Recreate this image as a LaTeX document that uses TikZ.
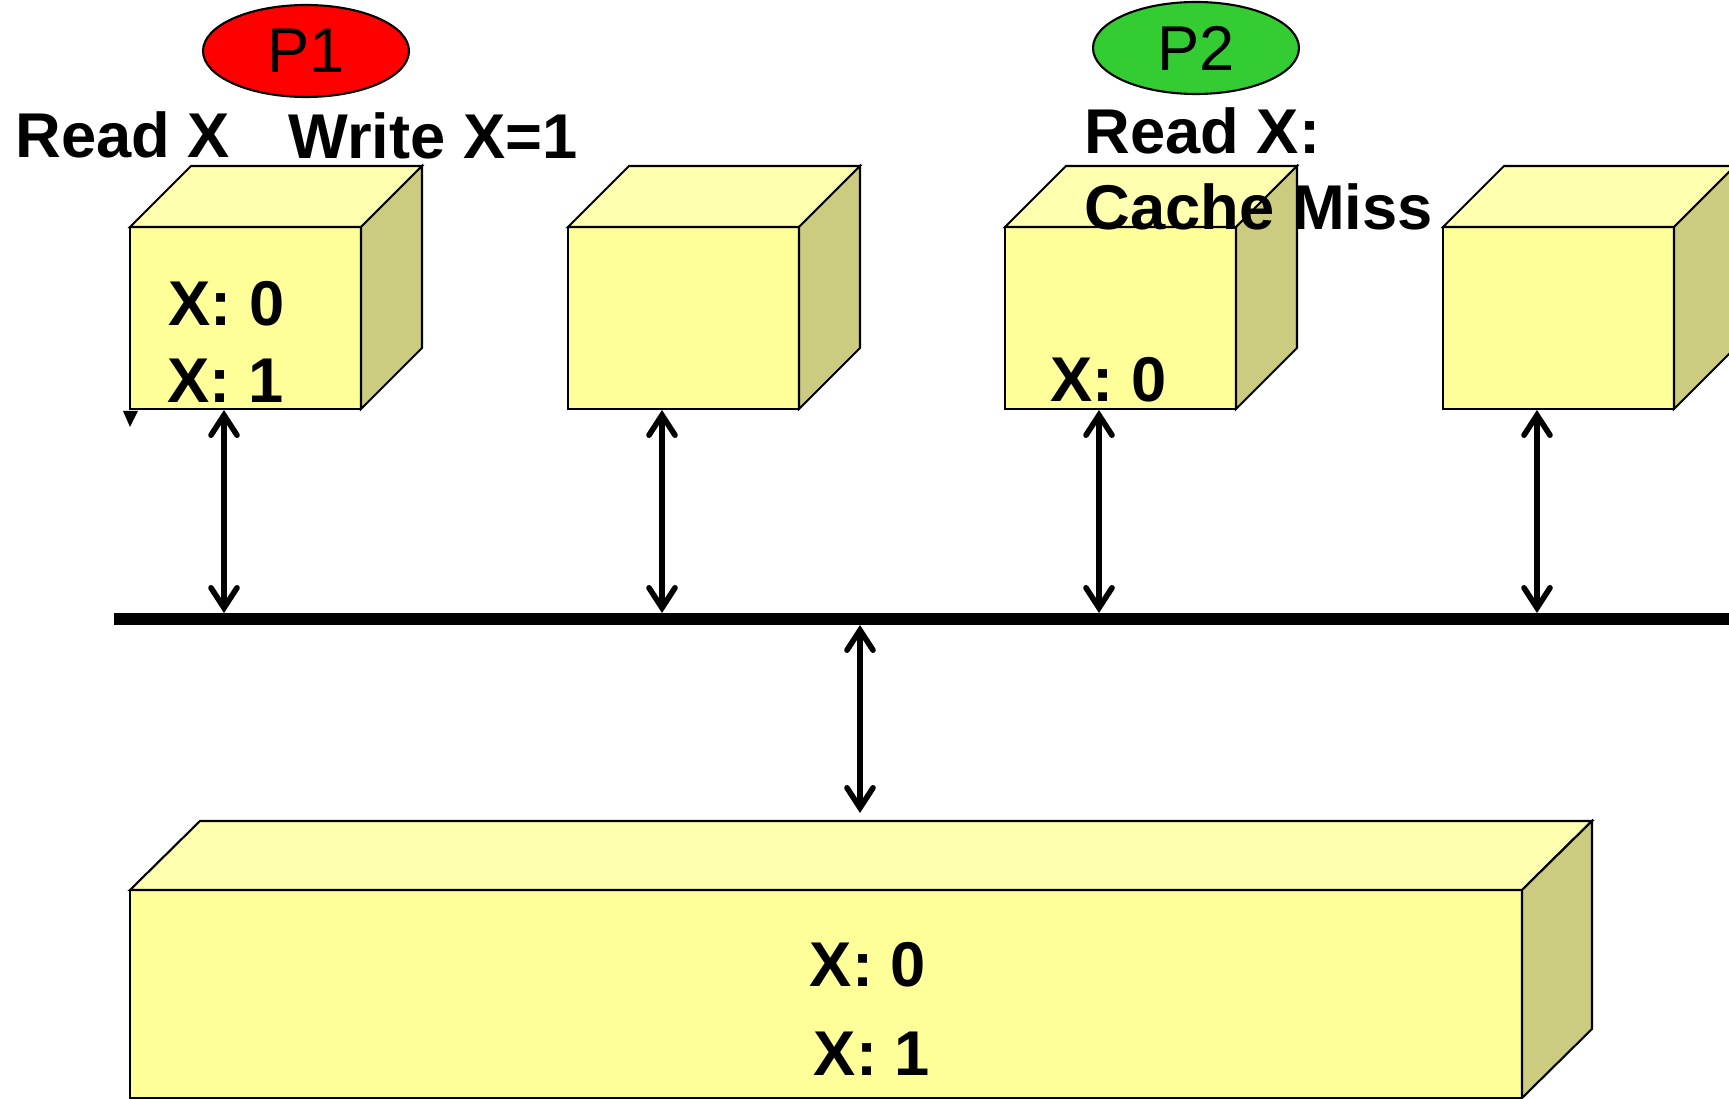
\documentclass[tikz,border=0pt]{standalone}
\usepackage{fontspec}
\setmainfont{Liberation Sans}
\usetikzlibrary{arrows.meta,shapes.geometric,positioning,calc}

\definecolor{boxfront}{RGB}{255,255,153}
\definecolor{boxtop}{RGB}{255,255,176}
\definecolor{boxside}{RGB}{204,204,128}
\definecolor{ptwo}{RGB}{51,204,51}

\tikzset{
    face/.style={draw, line width=0.6pt, line join=miter},
    cachebox/.style={face, fill=boxfront, anchor=north west, inner sep=0pt, outer sep=0pt,
        minimum width=23.1mm, minimum height=18.2mm},
    membox/.style={face, fill=boxfront, anchor=north west, inner sep=0pt, outer sep=0pt,
        minimum width=139.2mm, minimum height=20.8mm},
    link/.style={line width=1.6pt,
        {Straight Barb[length=2mm,width=2.6mm,line cap=round]}-{Straight Barb[length=2mm,width=2.6mm,line cap=round]}},
    busline/.style={line width=3.4pt},
    val/.style={font=\bfseries\fontsize{18}{20}\selectfont, inner sep=0pt, anchor=base west},
    proc/.style={ellipse, draw, line width=0.6pt, inner sep=0pt,
        minimum width=20.6mm, minimum height=9.2mm, font=\fontsize{18}{20}\selectfont},
}

\begin{document}
\begin{tikzpicture}[x=0.1mm, y=-0.1mm]
    \useasboundingbox (0,0) rectangle (1729,1099);
    \clip (0,0) rectangle (1729,1099);

    % Processors
    \node[proc, fill=red] (p1) at (306,51) {P1};
    \node[proc, fill=ptwo] (p2) at (1196,48) {P2};

    % Caches, one per processor
    \foreach \i/\x in {1/130, 2/568, 3/1005, 4/1443} {
        \node[cachebox] (cache\i) at (\x,227) {};
        \filldraw[face, fill=boxtop] (cache\i.north west) -- ++(61,-61) -- ++(231,0)
            -- (cache\i.north east) -- cycle;
        \filldraw[face, fill=boxside] (cache\i.north east) -- ++(61,-61) -- ++(0,182)
            -- (cache\i.south east) -- cycle;
        \coordinate (port\i) at (\x+94,410);
        \coordinate (tap\i) at (\x+94,613);
    }

    % Bus
    \coordinate (busL) at (114,619);
    \coordinate (busR) at (1729,619);
    \draw[busline] (busL) -- (busR);

    % Memory
    \node[membox] (mem) at (130,890) {};
    \filldraw[face, fill=boxtop] (mem.north west) -- ++(70,-69) -- ++(1392,0)
        -- (mem.north east) -- cycle;
    \filldraw[face, fill=boxside] (mem.north east) -- ++(70,-69) -- ++(0,208)
        -- (mem.south east) -- cycle;
    \coordinate (memtop) at (860,813);
    \coordinate (busdown) at (860,625);

    % Links
    \foreach \i in {1,...,4}
        \draw[link] (port\i) -- (tap\i);
    \draw[link] (busdown) -- (memtop);

    % stray tip under the first cache
    \fill (123,411) -- (138,411) -- (130,427) -- cycle;

    % Operations
    \node[val] (readone) at (15,158) {Read X};
    \node[val] (writeone) at (288,159) {Write X=1};
    \node[val] (readtwo) at (1084,154) {Read X:};
    \node[val] (miss) at (1084,230) {Cache Miss};

    % Values held
    \node[val] (c1old) at (168,326) {X: 0};
    \node[val] (c1new) at (167,403) {X: 1};
    \node[val] (c3old) at (1050,402) {X: 0};
    \node[val, anchor=base] (memold) at (868,987) {X: 0};
    \node[val, anchor=base] (memnew) at (872,1075) {X: 1};
\end{tikzpicture}
\end{document}
